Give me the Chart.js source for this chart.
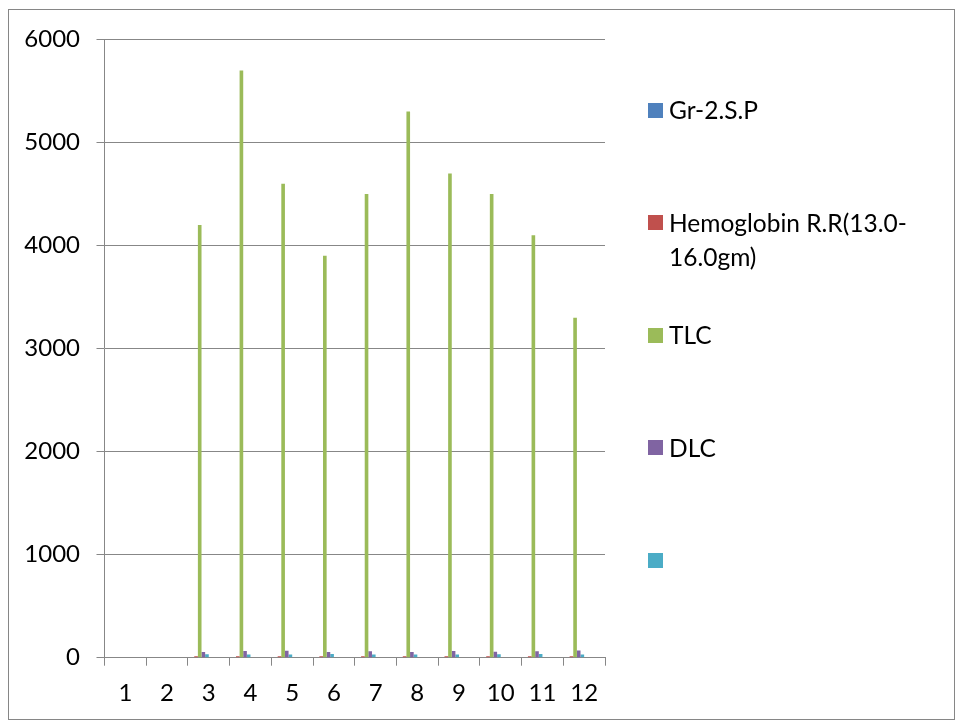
<!DOCTYPE html>
<html>
<head>
<meta charset="utf-8">
<script src="https://cdn.jsdelivr.net/npm/chart.js@4/dist/chart.umd.min.js"></script>
<style>
  html, body { margin: 0; padding: 0; background: #fff; }
  #wrap { position: relative; width: 956px; height: 721px; overflow: hidden; }
  #frame { position: absolute; left: 8px; top: 9px; width: 945px; height: 709px; border: 1px solid #868686; pointer-events: none; }
  #legend { position: absolute; left: 648px; top: 0; width: 300px; font-family: Lato, sans-serif; font-size: 24.5px; color: #000; }
  .item { position: absolute; left: 0; display: flex; align-items: flex-start; line-height: 34px; }
  .swatch { width: 15px; height: 15px; margin-top: 9.5px; margin-right: 6px; flex: none; }
  .txt { max-width: 275px; }
</style>
</head>
<body>
<div id="wrap">
  <canvas id="chart"></canvas>
  <div id="frame"></div>
  <div id="legend"></div>
</div>
<script>
const labels = ['1', '2', '3', '4', '5', '6', '7', '8', '9', '10', '11', '12'];
const grSP = [null, null, 0, 0, 0, 0, 0, 0, 0, 0, 0, 0];
const hemoglobin = [null, null, 13, 13, 14, 13, 13, 14, 13, 13, 14, 13];
const tlc = [null, null, 4200, 5700, 4600, 3900, 4500, 5300, 4700, 4500, 4100, 3300];
const dlc = [null, null, 55, 65, 68, 55, 62, 55, 66, 58, 62, 70];
const series5 = [null, null, 33, 30, 30, 35, 30, 30, 32, 33, 35, 30];
const yTicks = [0, 1000, 2000, 3000, 4000, 5000, 6000];

const FONT = 'Lato, sans-serif';
const GRID = '#878787';

// Excel dropped the last series from its legend for lack of room; they still take a slot in each group
const shown = [
  { label: 'Gr-2.S.P', data: grSP, color: '#4F81BD' },
  { label: 'Hemoglobin R.R(13.0-16.0gm)', data: hemoglobin, color: '#C0504D' },
  { label: 'TLC', data: tlc, color: '#9BBB59' },
  { label: 'DLC', data: dlc, color: '#8064A2' },
  { label: '', data: series5, color: '#4BACC6' },
];
const hidden = ['#F79646', '#2C4D75', '#772C2A', '#5F7530', '#4D3B62'].map((color) => ({ label: '', data: [], color }));

const datasets = shown.concat(hidden).map((s) => ({
  label: s.label,
  data: s.data,
  backgroundColor: s.color,
  borderWidth: 0,
  categoryPercentage: 10 / 11.5,
  barPercentage: 1,
}));

new Chart(document.getElementById('chart'), {
  type: 'bar',
  data: { labels, datasets },
  options: {
    responsive: true,
    maintainAspectRatio: false,
    devicePixelRatio: 1,
    animation: false,
    layout: { padding: { left: 0, top: 39.5, right: 351, bottom: 0 } },
    plugins: { legend: { display: false }, tooltip: { enabled: false } },
    scales: {
      x: {
        offset: true,
        grid: { display: true, drawOnChartArea: false, drawTicks: true, tickLength: 8, color: GRID, offset: true },
        border: { display: true, color: GRID, width: 1 },
        ticks: { color: '#000', font: { family: FONT, size: 24 }, padding: 13, maxRotation: 0, autoSkip: false },
        afterFit: (axis) => { axis.height = 63.3; },
      },
      y: {
        min: 0,
        max: 6000,
        afterBuildTicks: (axis) => { axis.ticks = yTicks.map((v) => ({ value: v })); },
        grid: { color: GRID, lineWidth: 1, tickLength: 8 },
        border: { display: true, color: GRID, width: 1 },
        ticks: { color: '#000', font: { family: FONT, size: 24 }, padding: 16.5, callback: (v) => String(v) },
        afterFit: (axis) => { axis.width = 104.5; },
      },
    },
  },
});

// legend on the right, spaced the way Excel spread it
const legend = document.getElementById('legend');
shown.forEach((s, i) => {
  const item = document.createElement('div');
  item.className = 'item';
  item.style.top = (110 + i * 112.5 - 17) + 'px';
  const sw = document.createElement('span');
  sw.className = 'swatch';
  sw.style.background = s.color;
  const tx = document.createElement('span');
  tx.className = 'txt';
  tx.textContent = s.label;
  item.appendChild(sw);
  item.appendChild(tx);
  legend.appendChild(item);
});
</script>
</body>
</html>
